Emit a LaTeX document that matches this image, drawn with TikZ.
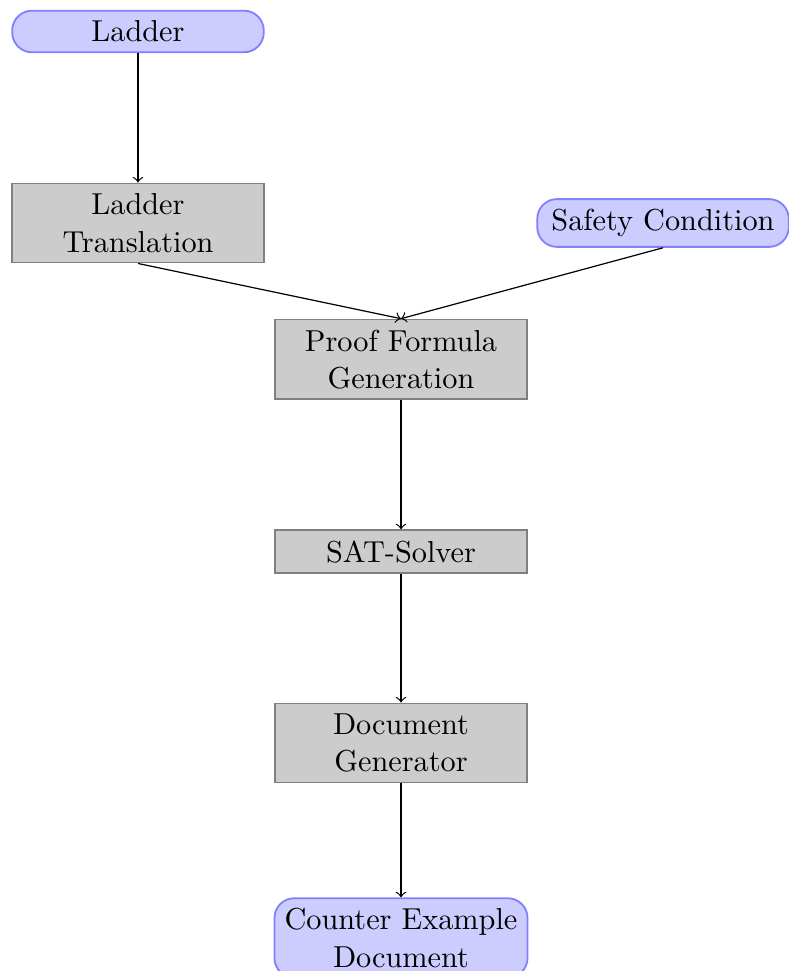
\documentclass[tikz,border=0pt]{standalone}
\usetikzlibrary{arrows}
\begin{document}
\begin{tikzpicture}[x=0.33pt,y=-0.33pt,
  terminal/.style={rectangle, rounded corners=6.5pt, minimum width=83pt,
    align=center, font=\fontsize{10}{12.4}\selectfont,
    draw=blue!50, fill=blue!20, line width=0.6pt},
  process/.style={rectangle, minimum width=83pt, align=center,
    font=\fontsize{10}{12.4}\selectfont,
    draw=black!50, fill=black!20, line width=0.6pt},
  flow/.style={->}]
  \useasboundingbox (0,0) rectangle (788,971);

  % nodes of the verification chain
  \node[terminal] (ladder)  at (138,31.5)  {Ladder};
  \node[process]  (trans)   at (138,223)   {Ladder\\Translation};
  \node[terminal] (safety)  at (663,223)   {Safety Condition};
  \node[process]  (proof)   at (401,359.5) {Proof Formula\\Generation};
  \node[process]  (sat)     at (401,551.5) {SAT-Solver};
  \node[process]  (docgen)  at (401,743)   {Document\\Generator};
  \node[terminal] (counter) at (401,938)   {Counter Example\\Document};

  % connectors
  \draw[flow] (ladder) -- (trans);
  \draw[flow] (trans.south) -- (proof.north);
  \draw[flow] (safety.south) -- (proof.north);
  \draw[flow] (proof) -- (sat);
  \draw[flow] (sat) -- (docgen);
  \draw[flow] (docgen) -- (counter);
\end{tikzpicture}
\end{document}
